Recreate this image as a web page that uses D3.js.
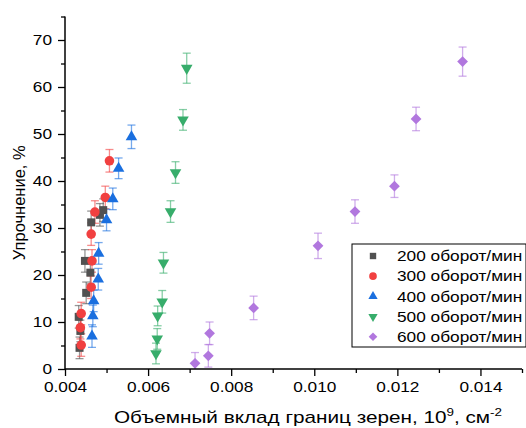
<!DOCTYPE html>
<html>
<head>
<meta charset="utf-8">
<script src="https://cdn.jsdelivr.net/npm/d3@7"></script>
<style>
  body { margin: 0; background: #fff; }
  text { font-family: "Liberation Sans", Arial, sans-serif; fill: #000; }
</style>
</head>
<body>
<div id="chart"></div>
<script>
/* Упрочнение vs объемный вклад границ зерен, 5 серий */

const seriesNames = ["200 оборот/мин", "300 оборот/мин", "400 оборот/мин", "500 оборот/мин", "600 оборот/мин"];

const x200 = [0.00435, 0.00437, 0.00433, 0.00451, 0.00461, 0.00448, 0.00463, 0.00484, 0.00492];
const y200 = [4.5, 8.1, 11.1, 16.2, 20.5, 23.0, 31.2, 32.8, 33.8];
const e200 = [2.3, 2.3, 2.4, 2.3, 2.4, 2.4, 2.4, 2.4, 2.4];

const x300 = [0.00439, 0.00437, 0.00439, 0.00463, 0.00465, 0.00463, 0.00472, 0.00497, 0.00507];
const y300 = [5.1, 8.8, 11.8, 17.4, 23.0, 28.7, 33.4, 36.5, 44.3];
const e300 = [2.4, 2.4, 2.4, 2.4, 2.4, 2.4, 2.4, 2.4, 2.4];

const x400 = [0.00465, 0.00467, 0.00469, 0.00480, 0.00481, 0.00500, 0.00515, 0.00529, 0.00560];
const y400 = [7.0, 11.3, 14.5, 19.1, 24.6, 31.7, 36.2, 42.7, 49.4];
const e400 = [2.4, 2.3, 2.3, 2.3, 2.3, 2.3, 2.3, 2.2, 2.5];

const x500 = [0.00619, 0.00622, 0.00623, 0.00634, 0.00637, 0.00654, 0.00666, 0.00684, 0.00693];
const y500 = [3.3, 6.4, 11.3, 14.3, 22.6, 33.5, 41.8, 53.0, 64.0];
const e500 = [2.2, 2.2, 2.1, 2.4, 2.2, 2.3, 2.3, 2.2, 3.2];

const x600 = [0.00713, 0.00745, 0.00748, 0.00854, 0.01009, 0.01098, 0.01193, 0.01245, 0.01357];
const y600 = [1.2, 2.8, 7.6, 13.0, 26.2, 33.5, 38.9, 53.2, 65.4];
const e600 = [2.3, 2.4, 2.4, 2.5, 2.7, 2.5, 2.4, 2.5, 3.1];

const xTicks = [0.004, 0.006, 0.008, 0.010, 0.012, 0.014];
const yTicks = [0, 10, 20, 30, 40, 50, 60, 70];

const colors = ["#515151", "#F14040", "#1A6FDF", "#37AD6B", "#B177DE"];

const width = 526, height = 428;
const margin = {top: 16.5, right: 4, bottom: 59, left: 65};
const stretch = 1.15; // the picture is a bit wider than tall

const series = [
  {xs: x200, ys: y200, es: e200, shape: "square"},
  {xs: x300, ys: y300, es: e300, shape: "circle"},
  {xs: x400, ys: y400, es: e400, shape: "up"},
  {xs: x500, ys: y500, es: e500, shape: "down"},
  {xs: x600, ys: y600, es: e600, shape: "diamond"}
].map((s, i) => ({
  name: seriesNames[i],
  color: colors[i],
  shape: s.shape,
  points: s.ys.map((y, j) => ({x: s.xs[j], y: y, e: s.es[j]}))
}));

const x = d3.scaleLinear().domain([0.004, 0.015]).range([margin.left, width - margin.right]);
const y = d3.scaleLinear().domain([0, 75]).range([height - margin.bottom, margin.top]);

const svg = d3.select("#chart")
  .append("svg")
  .attr("width", width)
  .attr("height", height);

// marker shapes, k = scale for legend
function symbolPath(shape, k) {
  if (shape === "square") return d3.symbol(d3.symbolSquare, 64 * k * k)();
  if (shape === "circle") return d3.symbol(d3.symbolCircle, 72 * k * k)();
  if (shape === "up" || shape === "down") return d3.symbol(d3.symbolTriangle, 58 * k * k)();
  return d3.symbol(d3.symbolSquare, 58 * k * k)();
}
function symbolRotate(shape) {
  if (shape === "down") return 180;
  if (shape === "diamond") return 45;
  return 0;
}

const plot = svg.append("g");

// error bars
series.forEach(s => {
  const g = plot.append("g")
    .attr("stroke", s.color)
    .attr("stroke-opacity", 0.6)
    .attr("stroke-width", 1.3)
    .attr("fill", "none");
  const bars = g.selectAll("g").data(s.points).join("g");
  bars.append("line")
    .attr("x1", d => x(d.x)).attr("x2", d => x(d.x))
    .attr("y1", d => y(Math.max(0, d.y - d.e))).attr("y2", d => y(d.y + d.e));
  bars.append("line")
    .attr("x1", d => x(d.x) - 4).attr("x2", d => x(d.x) + 4)
    .attr("y1", d => y(d.y + d.e)).attr("y2", d => y(d.y + d.e));
  bars.filter(d => d.y - d.e > 0).append("line")
    .attr("x1", d => x(d.x) - 4).attr("x2", d => x(d.x) + 4)
    .attr("y1", d => y(d.y - d.e)).attr("y2", d => y(d.y - d.e));
});

// markers
series.forEach(s => {
  plot.append("g")
    .attr("fill", s.color)
    .selectAll("path")
    .data(s.points)
    .join("path")
    .attr("d", symbolPath(s.shape, 1))
    .attr("transform", d => `translate(${x(d.x)},${y(d.y)}) rotate(${symbolRotate(s.shape)})`);
});

// axes
const xAxis = svg.append("g")
  .attr("transform", `translate(0,${y(0)})`);
xAxis.append("g")
  .call(d3.axisBottom(x).tickValues(d3.range(0.005, 0.0151, 0.002)).tickSize(4).tickFormat(""))
  .call(g => g.select(".domain").remove());
xAxis.append("g")
  .call(d3.axisBottom(x).tickValues(xTicks).tickSize(7).tickPadding(5).tickFormat(d3.format(".3f")))
  .call(g => g.selectAll("text").attr("class", "wide").attr("font-size", 15).attr("font-family", null))
  .call(g => g.select(".domain").attr("stroke-width", 1.5).attr("d", `M${x(0.004)},0H${x(0.015)}`));

const yAxis = svg.append("g")
  .attr("transform", `translate(${x(0.004)},0)`);
yAxis.append("g")
  .call(d3.axisLeft(y).tickValues(d3.range(5, 76, 10)).tickSize(4).tickFormat(""))
  .call(g => g.select(".domain").remove());
yAxis.append("g")
  .call(d3.axisLeft(y).tickValues(yTicks).tickSize(7).tickPadding(6))
  .call(g => g.selectAll("text").attr("class", "wide").attr("font-size", 15).attr("font-family", null))
  .call(g => g.select(".domain").attr("stroke-width", 1.5).attr("d", `M0,${y(0)}V${y(75)}`));

svg.selectAll(".tick line").attr("stroke-width", 1.3);

// axis titles
svg.append("text")
  .attr("transform", `translate(25,${(y(0) + y(75)) / 2 + 10}) rotate(-90)`)
  .attr("text-anchor", "middle")
  .attr("font-size", 16.5)
  .text("Упрочнение, %");

const xt = svg.append("text")
  .attr("x", 308)
  .attr("y", 423)
  .attr("text-anchor", "middle")
  .attr("font-size", 17)
  .attr("textLength", 388)
  .attr("lengthAdjust", "spacingAndGlyphs");
xt.append("tspan").text("Объемный вклад границ зерен, 10");
xt.append("tspan").attr("font-size", 11).attr("dy", -7).text("9");
xt.append("tspan").attr("dy", 7).text(", см");
xt.append("tspan").attr("font-size", 11).attr("dy", -7).text("-2");

// legend
const legend = svg.append("g").attr("transform", "translate(352,244)");
legend.append("rect")
  .attr("width", 174)
  .attr("height", 103)
  .attr("fill", "#fff")
  .attr("stroke", "#000")
  .attr("stroke-width", 1);
const items = legend.selectAll("g.item")
  .data(series)
  .join("g")
  .attr("class", "item")
  .attr("transform", (d, i) => `translate(0,${12 + i * 20.2})`);
items.append("path")
  .attr("d", d => symbolPath(d.shape, 0.8))
  .attr("fill", d => d.color)
  .attr("transform", d => `translate(21,0) rotate(${symbolRotate(d.shape)})`);
items.append("text")
  .attr("class", "wide")
  .attr("x", 45)
  .attr("dy", "0.35em")
  .attr("font-size", 15)
  .text(d => d.name);

// widen labels to match the picture's proportions
svg.selectAll("text.wide").each(function() {
  const w = this.getComputedTextLength();
  d3.select(this).attr("textLength", w * stretch).attr("lengthAdjust", "spacingAndGlyphs");
});
</script>
</body>
</html>
